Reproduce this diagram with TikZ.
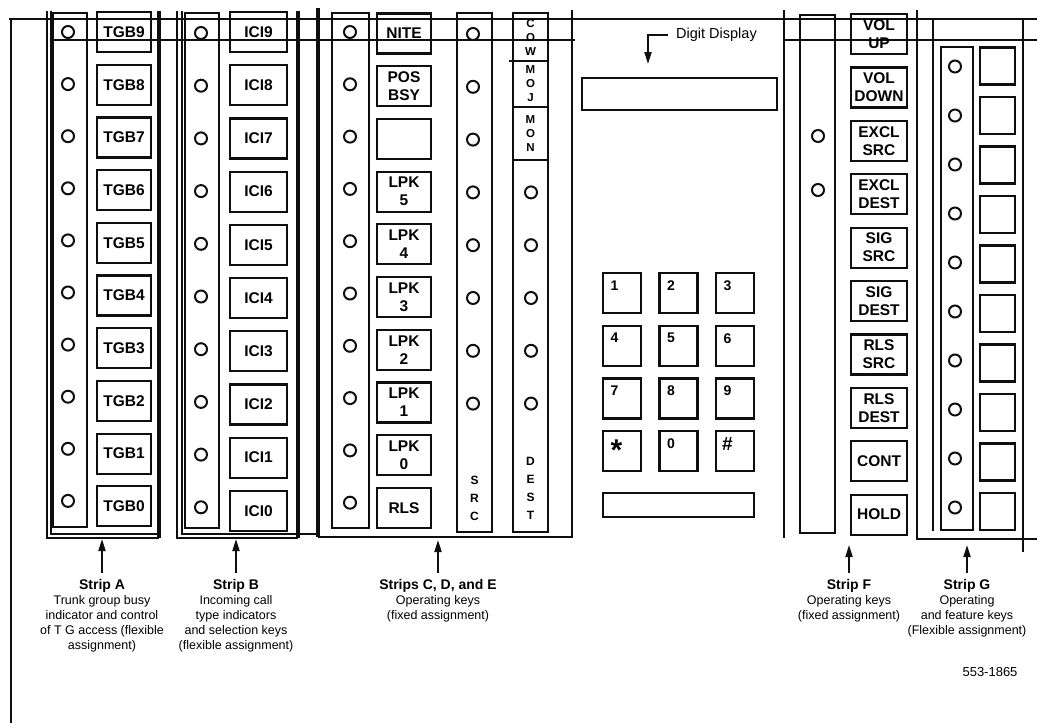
\documentclass[tikz,border=0pt]{standalone}
\usepackage{fontspec}
\setmainfont{Liberation Sans}
\usetikzlibrary{arrows.meta, positioning, calc}
\definecolor{inkcolor}{RGB}{15,15,15}
\newcommand{\striptitle}[1]{{\fontsize{14}{15}\selectfont\bfseries #1}}

\begin{document}
\begin{tikzpicture}[
    scale=0.5,
    transform shape,
    x=1pt, y=-1pt,
    frame/.style={line width=1.1pt, inkcolor},
    panel/.style={line width=1.3pt, inkcolor},
    heavy/.style={line width=1.8pt, inkcolor},
    column/.style={line width=1pt, inkcolor},
    lamp/.style={draw=inkcolor, line width=1pt, circle, minimum size=12pt, inner sep=0pt},
    keybox/.style={draw=inkcolor, line width=1.1pt, minimum height=40pt, inner sep=0pt, align=center, font=\fontsize{15.5}{18}\selectfont\bfseries},
    padkey/.style={draw=inkcolor, line width=1.1pt, minimum width=38pt, minimum height=40pt, inner sep=0pt},
    padlabel/.style={anchor=north, inner sep=0pt, font=\fontsize{14}{14}\selectfont\bfseries},
    screen/.style={draw=inkcolor, line width=1.2pt, inner sep=0pt},
    letters/.style={align=center, inner sep=0pt, font=\fontsize{12}{18}\selectfont\bfseries},
    striplabel/.style={anchor=north, align=center, inner sep=0pt, font=\fontsize{12.5}{15}\selectfont},
    arrow/.style={-{Triangle[length=6pt, width=3.5pt]}, line width=1pt, inkcolor}
]
    \useasboundingbox (0,0) rectangle (1037,723);

    % Console frame
    \draw[frame] (9,19) -- (1037,19);
    \draw[frame] (50,40) -- (575,40);
    \draw[frame] (784,40) -- (1037,40);
    \draw[frame] (11,19) -- (11,723);

    % Strip A panel
    \draw[panel] (47,11) -- (47,538) -- (159,538);
    \draw[heavy] (159,538) -- (159,11);
    \draw[column] (51,11) -- (51,534) -- (157,534);
    \draw[column] (53,13) rectangle (87,527);

    % Strip B panel
    \draw[panel] (177,11) -- (177,538) -- (298,538);
    \draw[heavy] (298,538) -- (298,11);
    \draw[column] (182,11) -- (182,534) -- (296,534);
    \draw[column] (185,13) rectangle (219,528);
    \draw[panel] (298,534) -- (318,534);

    % Strips C, D, E panel
    \draw[heavy] (318,8) -- (318,537);
    \draw[panel] (318,537) -- (572,537);
    \draw[column] (332,13) rectangle (369,528);
    \draw[column] (457,13) rectangle (492,532);
    \draw[column] (513,13) rectangle (548,532);
    \draw[column] (509,61) -- (548,61);
    \draw[column] (513,107) -- (548,107);
    \draw[column] (513,160) -- (548,160);

    % Centre panel
    \draw[panel] (572,10) -- (572,538);
    \draw[panel] (784,10) -- (784,538);

    % Strips F and G panels
    \draw[panel] (917,10) -- (917,539) -- (1037,539);
    \draw[column] (933,19) -- (933,531);
    \draw[panel] (1023,19) -- (1023,552);
    \draw[column] (800,15) rectangle (835,533);
    \draw[column] (941,47) rectangle (973,530);

    % Strip A
    \foreach \k in {0,...,9} {
        \pgfmathtruncatemacro{\n}{9-\k}
        \node[lamp] (la\n) at (68,32+52.1*\k) {};
        \node[keybox, minimum width=54pt] (tgb\n) at (124,32+52.7*\k) {TGB\n};
    }

    % Strip B
    \foreach \k in {0,...,9} {
        \pgfmathtruncatemacro{\n}{9-\k}
        \node[lamp] (lb\n) at (201,33+52.7*\k) {};
        \node[keybox, minimum width=57pt] (ici\n) at (258.5,32+53.2*\k) {ICI\n};
    }

    % Strip C
    \foreach \k/\txt in {0/NITE, 1/{POS\\BSY}, 2/{ }, 3/{LPK\\5}, 4/{LPK\\4}, 5/{LPK\\3}, 6/{LPK\\2}, 7/{LPK\\1}, 8/{LPK\\0}, 9/RLS} {
        \node[lamp] (lc\k) at (350,32+52.3*\k) {};
        \node[keybox, minimum width=54pt] (ck\k) at (404,33.5+52.7*\k) {\txt};
    }

    % Strips D and E
    \foreach \k in {0,...,7}
        \node[lamp] (ld\k) at (473,34+52.8*\k) {};
    \foreach \k in {3,...,7}
        \node[lamp] (le\k) at (531,34+52.8*\k) {};
    \node[letters] (srcl) at (474.5,498) {S\\R\\C};
    \node[letters] (destl) at (530.5,488) {D\\E\\S\\T};
    \node[letters, font=\fontsize{11.5}{14}\selectfont\bfseries] (cow) at (530.5,37) {C\\O\\W};
    \node[letters, font=\fontsize{11.5}{14}\selectfont\bfseries] (moj) at (530.5,84) {M\\O\\J};
    \node[letters, font=\fontsize{11.5}{14}\selectfont\bfseries] (mon) at (530.5,133.5) {M\\O\\N};

    % Digit display and keypad
    \node[font=\fontsize{14.5}{15}\selectfont, inner xsep=8pt, inner ysep=0pt, anchor=west] (ddlab) at (668,35) {Digit Display};
    \coordinate (ddtip) at (648,64);
    \draw[arrow] (ddlab.west) -| (ddtip);
    \node[screen, minimum width=195pt, minimum height=32pt] (disp) at (679.5,94) {};
    \foreach \i/\c/\r in {1/0/0, 2/1/0, 3/2/0, 4/0/1, 5/1/1, 6/2/1, 7/0/2, 8/1/2, 9/2/2, 0/1/3} {
        \node[padkey] (dig\i) at (622+56.5*\c,293+52.7*\r) {};
        \node[padlabel] (dl\i) at ($(dig\i.north west)+(12,8)$) {\i};
    }
    \node[padkey] (star) at (622,451.1) {};
    \node[padlabel, font=\fontsize{30}{30}\selectfont\bfseries] (starl) at ($(star.north west)+(14,9)$) {*};
    \node[padkey] (hash) at (735,451.1) {};
    \node[padlabel, font=\fontsize{19}{19}\selectfont\bfseries] (hashl) at ($(hash.north west)+(12,7)$) {\#};
    \node[screen, minimum width=151pt, minimum height=24pt] (bar) at (678.5,505) {};

    % Strip F
    \node[lamp] (lf1) at (818,136) {};
    \node[lamp] (lf2) at (818,190) {};
    \foreach \k/\txt in {0/{VOL\\UP}, 1/{VOL\\DOWN}, 2/{EXCL\\SRC}, 3/{EXCL\\DEST}, 4/{SIG\\SRC}, 5/{SIG\\DEST}, 6/{RLS\\SRC}, 7/{RLS\\DEST}, 8/CONT, 9/HOLD}
        \node[keybox, minimum width=56pt] (fk\k) at (879,34+53.4*\k) {\txt};

    % Strip G
    \foreach \k in {0,...,9} {
        \node[lamp] (lg\k) at (955,66.5+49*\k) {};
        \node[keybox, minimum width=35pt, minimum height=37pt] (gk\k) at (997.5,66+49.5*\k) {};
    }

    % Strip captions
    \node[striplabel] (labA) at (102,579) {\striptitle{Strip A}\\Trunk group busy\\indicator and control\\of T G access (flexible\\assignment)};
    \node[striplabel] (labB) at (236,579) {\striptitle{Strip B}\\Incoming call\\type indicators\\and selection keys\\(flexible assignment)};
    \node[striplabel] (labCE) at (438,579) {\striptitle{Strips C, D, and E}\\Operating keys\\(fixed assignment)};
    \node[striplabel] (labF) at (849,579) {\striptitle{Strip F}\\Operating keys\\(fixed assignment)};
    \node[striplabel] (labG) at (967,579) {\striptitle{Strip G}\\Operating\\and feature keys\\(Flexible assignment)};
    \node[font=\fontsize{13}{13}\selectfont] (figno) at (990,672) {553-1865};

    % Pointers to the strips
    \coordinate (tipA) at (102,539);
    \coordinate (tipB) at (236,539);
    \coordinate (tipCE) at (438,540);
    \coordinate (tipF) at (849,545);
    \coordinate (tipG) at (967,545);
    \draw[arrow, shorten <=3pt] (labA.north) -- (tipA);
    \draw[arrow, shorten <=3pt] (labB.north) -- (tipB);
    \draw[arrow, shorten <=3pt] (labCE.north) -- (tipCE);
    \draw[arrow, shorten <=3pt] (labF.north) -- (tipF);
    \draw[arrow, shorten <=3pt] (labG.north) -- (tipG);
\end{tikzpicture}
\end{document}
